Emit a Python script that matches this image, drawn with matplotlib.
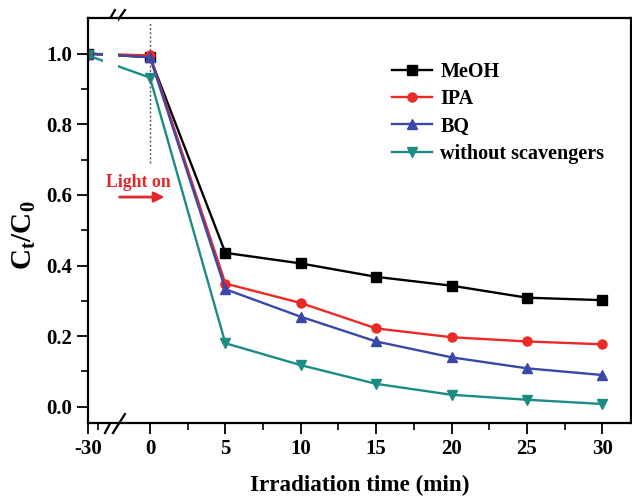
import numpy as np
import matplotlib
matplotlib.use("Agg")
import matplotlib.pyplot as plt

plt.rcParams['font.family'] = 'Liberation Serif'
plt.rcParams['font.weight'] = 'bold'
plt.rcParams['mathtext.fontset'] = 'custom'
plt.rcParams['mathtext.rm'] = 'Liberation Serif:bold'
plt.rcParams['mathtext.bf'] = 'Liberation Serif:bold'

# data
time = [-30, 0, 5, 10, 15, 20, 25, 30]
meoh = [1.0, 0.99, 0.436, 0.406, 0.368, 0.343, 0.309, 0.302]
ipa = [1.0, 0.995, 0.349, 0.294, 0.222, 0.197, 0.185, 0.177]
bq = [1.0, 0.99, 0.333, 0.255, 0.185, 0.140, 0.109, 0.090]
no_scav = [0.995, 0.932, 0.180, 0.118, 0.065, 0.034, 0.020, 0.008]
labels = ["MeOH", "IPA", "BQ", "without scavengers"]
xticks = [-30, 0, 5, 10, 15, 20, 25, 30]

# compress the dark period (-30..0) on the x axis
k = 0.1371
def fwd(x):
    x = np.asarray(x, dtype=float)
    return np.where(x < 0, x * k, x)
def inv(t):
    t = np.asarray(t, dtype=float)
    return np.where(t < 0, t / k, t)

fig = plt.figure(figsize=(6.32, 4.96), dpi=100)
ax = fig.add_axes([0.1392, 0.1478, 0.8592, 0.8152])
ax.set_xscale('function', functions=(fwd, inv))

series = [(meoh, '#000000', 's'), (ipa, '#EC2A25', 'o'),
          (bq, '#3A48A8', '^'), (no_scav, '#1B8C84', 'v')]
for (vals, col, mk), lab in zip(series, labels):
    ax.plot(time, vals, color=col, marker=mk, ms=6.5, lw=1.7, label=lab)

# gap in the lines at the axis break
ax.axvspan(inv(-3.1), inv(-2.15), color='white', zorder=2.1, lw=0)

# light-on marker
ax.plot([0, 0], [0.69, 1.09], color='#555555', ls=(0, (1.5, 1.5)), lw=1)
ax.text(inv(-0.75), 0.635, "Light on", color='#E0282A', fontsize=12.8,
        ha='center', va='center', fontweight='bold')
ax.annotate("", xy=(inv(1.15), 0.594), xytext=(inv(-2.2), 0.594),
            arrowprops=dict(arrowstyle='-|>', color='#E0282A', lw=2,
                            mutation_scale=15))

ax.set_xlim(-30, 31.9)
ax.set_ylim(-0.045, 1.1)
ax.set_xticks(xticks)
ax.set_xticklabels([str(v) for v in xticks])
ax.set_xticks([-25, 2.5, 7.5, 12.5, 17.5, 22.5, 27.5], minor=True)
ax.set_yticks([0.0, 0.2, 0.4, 0.6, 0.8, 1.0])
ax.set_yticks(np.arange(0.1, 1.0, 0.2), minor=True)
ax.tick_params(which='major', direction='out', length=8, width=1.3,
               labelsize=15, top=False, right=False)
ax.tick_params(which='minor', direction='out', length=5, width=1.2,
               top=False, right=False)
for s in ax.spines.values():
    s.set_linewidth(1.6)

# break marks
for y0, y1 in [(-0.0255, 0.0215), (0.9785, 1.0205)]:
    for x0, x1 in [(0.0313, 0.0497), (0.0460, 0.0681)]:
        ax.plot([x0, x1], [y0, y1], color='black', lw=1.6,
                transform=ax.transAxes, clip_on=False)

ax.set_xlabel("Irradiation time (min)", fontsize=16.7, fontweight='bold')
ax.xaxis.set_label_coords(0.501, -0.13)
ax.set_ylabel(r"$\mathbf{C_t/C_0}$", fontsize=21)
ax.yaxis.set_label_coords(-0.092, 0.464)

ax.legend(loc='upper left', bbox_to_anchor=(0.545, 0.912), frameon=False,
          fontsize=14.5, handlelength=2.0, numpoints=1, labelspacing=0.36,
          handletextpad=0.4, borderaxespad=0)

fig.savefig("out.png", dpi=100)
